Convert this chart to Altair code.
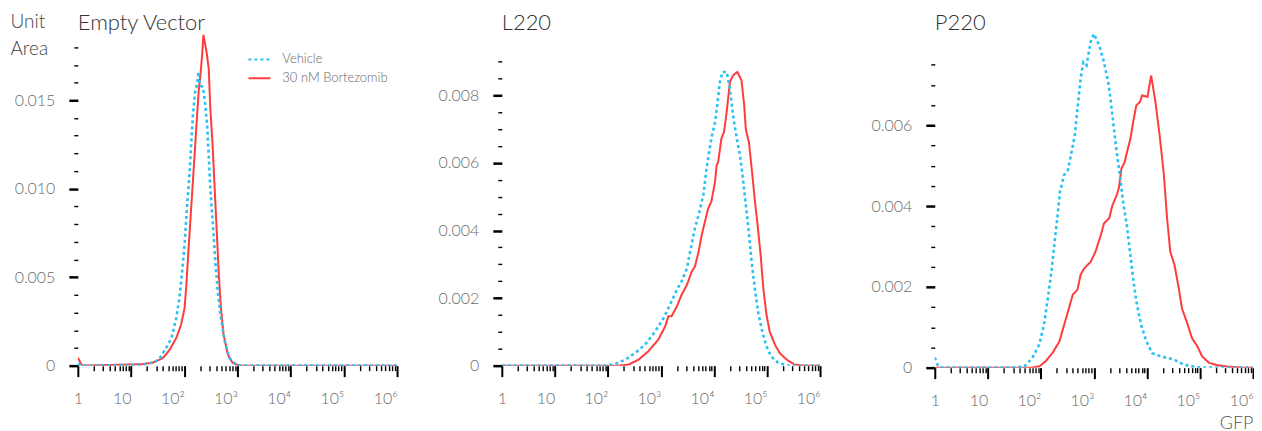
import json
import altair as alt
import pandas as pd

SERIES = ["Vehicle", "30 nM Bortezomib"]
BLUE = "#27c2f2"
RED = "#ff3c3c"
PANEL_TITLES = ["Empty Vector", "L220", "P220"]

# ---- data: x = log10(GFP), y = density in units of 0.001 (Unit Area) ----
# Empty Vector
ev_veh_log = [0, 0.08, 1.2, 1.45, 1.54, 1.66, 1.76, 1.85, 1.91, 1.96, 2.01, 2.05, 2.10, 2.13, 2.16,
              2.20, 2.24, 2.27, 2.29, 2.35, 2.39, 2.43, 2.46, 2.49, 2.54, 2.58, 2.63, 2.69, 2.76,
              2.85, 2.98, 3.1, 6.0]
ev_veh_val = [0.1, 0, 0.05, 0.2, 0.43, 1.0, 1.56, 2.69, 3.82, 5.32, 7.01, 8.89, 10.9, 12.5, 14.0,
              15.4, 15.9, 16.6, 15.85, 15.75, 14.9, 13.6, 11.9, 10.0, 7.95, 6.07, 4.19, 2.69, 1.37,
              0.43, 0.05, 0, 0]
ev_bor_log = [0, 0.08, 1.2, 1.41, 1.60, 1.725, 1.85, 1.94, 2.006, 2.04, 2.07, 2.11, 2.15, 2.19,
              2.23, 2.27, 2.31, 2.34, 2.36, 2.42, 2.46, 2.49, 2.53, 2.56, 2.59, 2.62, 2.65, 2.69,
              2.74, 2.82, 2.91, 3.04, 6.0]
ev_bor_val = [0.45, 0, 0.08, 0.17, 0.43, 0.90, 1.56, 2.31, 3.25, 4.57, 6.07, 7.95, 9.83, 11.71,
              13.59, 15.47, 16.6, 17.72, 18.7, 17.72, 16.79, 14.53, 12.65, 10.77, 8.89, 7.01,
              5.13, 3.25, 1.75, 0.62, 0.15, 0, 0]
# L220
l_veh_log = [0, 1.95, 2.14, 2.33, 2.51, 2.70, 2.89, 3.05, 3.17, 3.30, 3.39, 3.49, 3.55, 3.64,
             3.71, 3.80, 3.86, 3.95, 4.02, 4.07, 4.11, 4.16, 4.24, 4.30, 4.36, 4.43, 4.49, 4.53,
             4.58, 4.65, 4.71, 4.77, 4.83, 4.91, 4.99, 5.08, 5.21, 5.40, 6.0]
l_veh_val = [0, 0, 0.05, 0.18, 0.37, 0.62, 1.01, 1.41, 1.80, 2.24, 2.49, 2.88, 3.37, 4.06, 4.46,
             5.05, 5.83, 6.72, 7.21, 7.80, 8.39, 8.69, 8.69, 8.20, 7.41, 6.72, 6.23, 5.74, 5.05,
             4.06, 3.08, 2.29, 1.60, 1.01, 0.57, 0.27, 0.08, 0, 0]
l_bor_log = [0, 2.20, 2.39, 2.58, 2.76, 2.95, 3.08, 3.14, 3.20, 3.30, 3.39, 3.49, 3.58, 3.64,
             3.71, 3.77, 3.83, 3.89, 3.95, 4.02, 4.05, 4.08, 4.14, 4.19, 4.24, 4.30, 4.36, 4.44,
             4.52, 4.57, 4.60, 4.66, 4.72, 4.77, 4.82, 4.88, 4.93, 4.99, 5.05, 5.15, 5.24, 5.37,
             5.52, 5.71, 6.0]
l_bor_val = [0, 0, 0.03, 0.18, 0.42, 0.77, 1.16, 1.46, 1.46, 1.75, 2.10, 2.39, 2.78, 2.93, 3.37,
             3.87, 4.26, 4.65, 4.85, 5.44, 5.93, 6.03, 6.72, 6.92, 7.51, 8.39, 8.59, 8.69, 8.44,
             7.7, 7.0, 6.6, 5.7, 4.9, 4.2, 3.28, 2.29, 1.51, 1.01, 0.62, 0.37, 0.18, 0.03, 0, 0]
# P220
p_veh_log = [0, 0.06, 0.1, 1.44, 1.69, 1.84, 1.97, 2.06, 2.14, 2.20, 2.26, 2.31, 2.36, 2.44, 2.51,
             2.58, 2.64, 2.69, 2.75, 2.80, 2.86, 2.94, 3.00, 3.10, 3.19, 3.27, 3.32, 3.37, 3.43,
             3.49, 3.55, 3.62, 3.68, 3.74, 3.80, 3.89, 3.99, 4.10, 4.26, 4.51, 4.70, 4.95, 5.2, 6.0]
p_veh_val = [0.25, 0.05, 0, 0, 0.03, 0.24, 0.57, 1.06, 1.80, 2.38, 3.12, 3.70, 4.35, 4.77, 4.89,
             5.34, 5.75, 6.41, 7.15, 7.56, 7.48, 8.06, 8.26, 7.98, 7.56, 7.07, 6.58, 6.00, 5.34,
             4.77, 4.11, 3.53, 2.87, 2.21, 1.64, 1.06, 0.65, 0.36, 0.28, 0.20, 0.07, 0.01, 0, 0]
p_bor_log = [0, 1.81, 1.97, 2.09, 2.22, 2.35, 2.44, 2.53, 2.60, 2.69, 2.75, 2.82, 2.94, 3.03, 3.13,
             3.19, 3.29, 3.35, 3.43, 3.47, 3.52, 3.58, 3.64, 3.69, 3.74, 3.80, 3.87, 3.91, 4.01,
             4.08, 4.16, 4.24, 4.32, 4.38, 4.44, 4.52, 4.60, 4.66, 4.76, 4.85, 4.95, 5.04, 5.17,
             5.33, 5.57, 5.8, 6.0]
p_bor_val = [0, 0, 0.03, 0.16, 0.36, 0.65, 1.06, 1.47, 1.80, 1.93, 2.30, 2.46, 2.62, 2.87, 3.28,
             3.57, 3.70, 4.02, 4.27, 4.44, 4.93, 5.09, 5.42, 5.67, 6.08, 6.49, 6.58, 6.74, 6.70,
             7.23, 6.58, 5.75, 4.77, 3.70, 2.87, 2.54, 1.97, 1.47, 1.10, 0.73, 0.53, 0.28, 0.12,
             0.06, 0.02, 0, 0]

# ---- axis ticks / labels ----
X_MAJOR = [1, 10, 100, 1000, 10000, 100000, 1000000]
X_MAJOR_LABELS = ["1", "10", "10²", "10³", "10⁴", "10⁵", "10⁶"]
X_TICKS = [1, 2, 3, 4, 5, 6, 7, 8, 9,
           10, 20, 30, 40, 50, 60, 70, 80, 90,
           100, 200, 300, 400, 500, 600, 700, 800, 900,
           1000, 2000, 3000, 4000, 5000, 6000, 7000, 8000, 9000,
           10000, 20000, 30000, 40000, 50000, 60000, 70000, 80000, 90000,
           100000, 200000, 300000, 400000, 500000, 600000, 700000, 800000, 900000,
           1000000]
EV_Y_TICKS = [0, 0.001, 0.002, 0.003, 0.004, 0.005, 0.006, 0.007, 0.008, 0.009, 0.01,
              0.011, 0.012, 0.013, 0.014, 0.015, 0.016, 0.017, 0.018]
EV_Y_MAJOR = [0, 0.005, 0.01, 0.015]
L_Y_TICKS = [0, 0.0005, 0.001, 0.0015, 0.002, 0.0025, 0.003, 0.0035, 0.004, 0.0045, 0.005,
             0.0055, 0.006, 0.0065, 0.007, 0.0075, 0.008, 0.0085, 0.009]
L_Y_MAJOR = [0, 0.002, 0.004, 0.006, 0.008]
P_Y_TICKS = [0, 0.0005, 0.001, 0.0015, 0.002, 0.0025, 0.003, 0.0035, 0.004, 0.0045, 0.005,
             0.0055, 0.006, 0.0065, 0.007, 0.0075]
P_Y_MAJOR = [0, 0.002, 0.004, 0.006]

FONT = "Lato"
LABEL_COLOR = "#6a6a6a"


def make_df(vlog, vval, blog, bval):
    rows = []
    for lg, v in zip(vlog, vval):
        rows.append({"gfp": 10 ** lg, "density": v / 1000.0, "series": SERIES[0]})
    for lg, v in zip(blog, bval):
        rows.append({"gfp": 10 ** lg, "density": v / 1000.0, "series": SERIES[1]})
    return pd.DataFrame(rows)


def x_axis(title=None):
    test = "indexof(%s, datum.value) >= 0" % json.dumps(X_MAJOR)
    expr = " : ".join("datum.value == %d ? '%s'" % (v, l) for v, l in zip(X_MAJOR, X_MAJOR_LABELS)) + " : ''"
    kw = dict(
        values=X_TICKS, labelExpr=expr, domain=False, grid=False,
        tickColor="#000",
        tickSize={"condition": {"test": test, "value": 11}, "value": 5},
        tickWidth={"condition": {"test": test, "value": 2}, "value": 1.4},
        labelAlign={"condition": {"test": "datum.value == 1", "value": "center"}, "value": "right"},
        labelFlush=False, labelOverlap=False, labelFont=FONT, labelFontSize=16,
        labelFontWeight=300, labelColor=LABEL_COLOR, labelPadding=14,
    )
    if title:
        kw.update(title=title, titleAnchor="end", titleAlign="right", titleBaseline="alphabetic",
                  titleFont=FONT, titleFontSize=18, titleFontWeight=300, titleColor="#555",
                  titleX=319, titleY=61)
    else:
        kw.update(title=None)
    return alt.Axis(**kw)


def y_axis(ticks, majors, title=None):
    test = "indexof(%s, datum.value) >= 0" % json.dumps(majors)
    expr = "%s ? (datum.value == 0 ? '0' : format(datum.value, '.3f')) : ''" % test
    kw = dict(
        values=ticks, labelExpr=expr, domain=False, grid=False, tickColor="#000",
        tickSize={"condition": {"test": test, "value": 9}, "value": 4},
        tickWidth={"condition": {"test": test, "value": 2.5}, "value": 1.4},
        labelFlush=False, labelOverlap=False, labelFont=FONT, labelFontSize=16,
        labelFontWeight=300, labelColor=LABEL_COLOR, labelPadding=14, labelBaseline="middle",
    )
    if title:
        kw.update(title=title, titleAngle=0, titleAlign="left", titleBaseline="alphabetic",
                  titleX=-68, titleY=-3, titleFont=FONT, titleFontSize=19, titleFontWeight=300,
                  titleColor="#444", titleLineHeight=27)
    else:
        kw.update(title=None)
    return alt.Axis(**kw)


def panel(df, title, title_offset, width, xr, height, ymax, yax, xax, show_legend):
    if show_legend:
        leg = alt.Legend(orient="none", legendX=170, legendY=17, title=None, labelFont=FONT,
                         labelFontSize=13, labelFontWeight=300, labelColor="#666",
                         symbolType="stroke", symbolSize=484, symbolStrokeWidth=2,
                         labelOffset=11, rowPadding=0, padding=0)
    else:
        leg = None
    enc = dict(
        x=alt.X("gfp:Q", scale=alt.Scale(type="log", domain=[1, 1000000], range=[0, xr], nice=False), axis=xax),
        y=alt.Y("density:Q", scale=alt.Scale(domain=[0, ymax], nice=False, zero=True), axis=yax),
        color=alt.Color("series:N", scale=alt.Scale(domain=SERIES, range=[BLUE, RED]), legend=leg),
        strokeDash=alt.StrokeDash("series:N", scale=alt.Scale(domain=SERIES, range=[[3, 3], [1, 0]]), legend=leg),
    )
    base = alt.Chart(df)
    red = base.transform_filter(alt.datum.series == SERIES[1]).mark_line(strokeWidth=2, clip=True).encode(**enc)
    blue = base.transform_filter(alt.datum.series == SERIES[0]).mark_line(strokeWidth=2.6, clip=True).encode(**enc)
    return alt.layer(red, blue).properties(
        width=width, height=height,
        title=alt.TitleParams(title, anchor="start", frame="group", font=FONT, fontSize=22,
                              fontWeight=300, color="#333", offset=title_offset,
                              baseline="alphabetic"),
    )


p1 = panel(make_df(ev_veh_log, ev_veh_val, ev_bor_log, ev_bor_val), PANEL_TITLES[0], -40, 320, 320, 336,
           0.018947, y_axis(EV_Y_TICKS, EV_Y_MAJOR, ["Unit", "Area"]), x_axis(), True)
p2 = panel(make_df(l_veh_log, l_veh_val, l_bor_log, l_bor_val), PANEL_TITLES[1], -22, 329, 319, 336,
           0.009919, y_axis(L_Y_TICKS, L_Y_MAJOR), x_axis(), False)
p3 = panel(make_df(p_veh_log, p_veh_val, p_bor_log, p_bor_val), PANEL_TITLES[2], -22, 320, 319, 338,
           0.008346, y_axis(P_Y_TICKS, P_Y_MAJOR), x_axis("GFP"), False)

chart = alt.hconcat(p1, p2, p3, spacing=105, bounds="flush").resolve_scale(
    x="independent", y="independent", color="independent", strokeDash="independent"
).properties(
    padding={"left": 2, "top": 4, "right": 0, "bottom": 0}
).configure(font=FONT).configure_view(strokeWidth=0, stroke=None)

chart.save("out.html", embed_options={"renderer": "svg", "actions": False})
